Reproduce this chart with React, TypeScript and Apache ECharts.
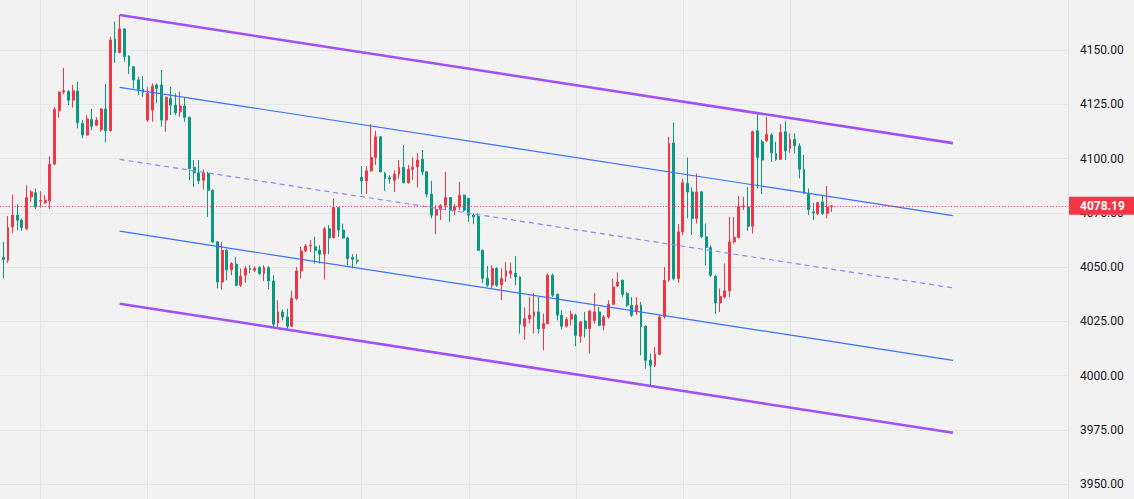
import React, { useEffect, useRef } from "react";
import * as echarts from "echarts";

// ---- OHLC data (hourly candles, index = bar number) ----
const opens = [
  4055.4, 4054.4, 4053.1, 4068.5, 4073.9, 4071.6, 4067.7, 4082.3, 4084.2, 4080.3,
  4079.6, 4080.5, 4097.4, 4122.0, 4130.6, 4130.8, 4126.9, 4131.1, 4116.2, 4110.8,
  4118.0, 4115.3, 4113.4, 4122.8, 4112.8, 4155.1, 4148.8, 4159.7, 4147.2, 4142.3,
  4136.2, 4131.9, 4117.7, 4122.3, 4133.9, 4133.9, 4117.7, 4127.7, 4124.6, 4121.5,
  4124.2, 4119.0, 4095.9, 4093.4, 4090.0, 4093.1, 4085.4, 4061.6, 4043.1, 4057.7,
  4048.8, 4051.3, 4041.6, 4046.2, 4049.3, 4048.5, 4049.7, 4047.0, 4049.7, 4043.6,
  4024.2, 4029.3, 4027.0, 4022.7, 4035.5, 4048.2, 4057.4, 4059.7, 4059.3, 4057.7,
  4055.9, 4067.6, 4063.6, 4077.4, 4067.0, 4063.4, 4054.4, 4053.1, 4091.3, 4089.7,
  4094.3, 4100.5, 4110.0, 4093.1, 4091.1, 4090.0, 4092.8, 4095.9, 4088.8, 4095.1,
  4096.2, 4099.6, 4093.9, 4083.6, 4073.9, 4076.5, 4078.4, 4082.0, 4076.2, 4077.7,
  4083.1, 4081.6, 4073.9, 4073.4, 4057.7, 4044.7, 4041.6, 4049.3, 4041.9, 4045.7,
  4047.0, 4047.0, 4045.4, 4022.7, 4026.2, 4027.3, 4029.3, 4021.6, 4023.9, 4046.2,
  4037.4, 4027.8, 4022.7, 4026.0, 4027.8, 4018.1, 4025.1, 4021.6, 4025.4, 4029.3,
  4023.1, 4027.0, 4032.8, 4041.3, 4043.9, 4037.8, 4032.4, 4029.3, 4032.4, 4022.7,
  4007.0, 4004.7, 4009.8, 4027.0, 4043.9, 4107.2, 4044.7, 4066.2, 4088.5, 4084.6,
  4072.4, 4084.6, 4063.9, 4059.0, 4045.7, 4033.4, 4036.2, 4039.0, 4061.6, 4063.6,
  4077.7, 4077.7, 4068.8, 4112.8, 4107.7, 4108.2, 4110.8, 4102.3, 4099.6, 4112.3,
  4104.7, 4108.8, 4105.7, 4095.0, 4083.4, 4075.4, 4074.7, 4080.0, 4074.7, 4077.9,
];
const closes = [
  4054.0, 4053.5, 4068.2, 4073.9, 4071.6, 4068.2, 4082.0, 4084.6, 4077.7, 4080.7,
  4080.8, 4097.4, 4122.6, 4130.6, 4131.2, 4126.9, 4131.2, 4116.5, 4110.8, 4118.2,
  4114.9, 4117.7, 4122.8, 4112.8, 4154.6, 4148.8, 4159.7, 4146.9, 4142.6, 4136.2,
  4131.9, 4130.5, 4130.0, 4133.4, 4132.3, 4117.7, 4128.2, 4124.6, 4121.1, 4124.2,
  4119.0, 4095.4, 4093.4, 4089.7, 4093.4, 4085.4, 4061.6, 4043.1, 4057.7, 4048.8,
  4051.6, 4041.6, 4045.7, 4049.3, 4048.8, 4049.3, 4047.0, 4049.7, 4043.6, 4023.6,
  4029.3, 4027.0, 4022.7, 4035.5, 4048.2, 4057.4, 4059.7, 4060.0, 4057.7, 4055.9,
  4067.6, 4063.4, 4077.4, 4067.0, 4063.4, 4053.9, 4053.6, 4052.7, 4089.7, 4094.3,
  4100.5, 4110.0, 4093.9, 4090.8, 4090.5, 4092.8, 4095.9, 4088.8, 4095.1, 4095.9,
  4099.3, 4093.9, 4083.6, 4073.9, 4076.5, 4078.4, 4082.0, 4076.2, 4077.7, 4083.1,
  4076.2, 4073.9, 4073.1, 4057.7, 4044.7, 4041.6, 4049.3, 4041.6, 4044.7, 4048.2,
  4048.2, 4045.4, 4023.6, 4026.2, 4027.8, 4029.3, 4021.6, 4023.9, 4046.2, 4037.0,
  4027.8, 4022.7, 4025.8, 4028.2, 4018.5, 4024.7, 4021.6, 4029.7, 4029.3, 4023.1,
  4027.0, 4032.8, 4040.8, 4043.1, 4037.4, 4032.4, 4027.8, 4032.4, 4022.4, 4007.0,
  4004.7, 4009.8, 4027.0, 4043.9, 4106.9, 4044.7, 4066.2, 4088.8, 4084.6, 4072.4,
  4084.6, 4063.9, 4059.0, 4046.2, 4033.4, 4036.5, 4039.0, 4061.6, 4063.6, 4078.0,
  4078.1, 4068.8, 4112.3, 4100.5, 4099.3, 4111.2, 4102.6, 4099.6, 4112.0, 4103.5,
  4108.8, 4105.9, 4095.0, 4083.9, 4076.5, 4074.9, 4079.7, 4074.7, 4077.4, 4078.19,
];
const lows = [
  4052.5, 4044.7, 4051.9, 4065.7, 4067.0, 4066.7, 4067.0, 4080.0, 4076.7, 4077.4,
  4079.0, 4076.7, 4097.0, 4118.8, 4129.7, 4124.6, 4123.4, 4113.9, 4109.3, 4110.5,
  4113.1, 4114.9, 4112.3, 4107.4, 4112.5, 4144.1, 4148.5, 4144.6, 4138.9, 4132.3,
  4129.2, 4128.5, 4116.9, 4116.9, 4125.4, 4114.6, 4112.3, 4120.0, 4120.0, 4119.2,
  4116.9, 4090.0, 4086.9, 4088.2, 4085.7, 4073.1, 4061.0, 4040.1, 4039.6, 4043.9,
  4046.2, 4041.1, 4040.8, 4042.7, 4047.3, 4047.7, 4046.2, 4043.6, 4039.6, 4022.4,
  4022.4, 4025.4, 4021.6, 4022.4, 4034.7, 4044.7, 4057.0, 4057.0, 4051.6, 4051.6,
  4044.2, 4055.9, 4063.1, 4063.9, 4063.1, 4050.8, 4049.3, 4051.3, 4083.6, 4083.6,
  4093.9, 4097.0, 4093.6, 4085.1, 4088.5, 4084.6, 4090.8, 4088.5, 4088.5, 4090.0,
  4086.7, 4092.3, 4082.0, 4072.4, 4065.1, 4071.6, 4076.2, 4070.8, 4073.9, 4076.2,
  4075.4, 4070.8, 4069.7, 4057.4, 4042.7, 4040.8, 4040.1, 4040.8, 4034.7, 4043.1,
  4044.7, 4041.6, 4019.3, 4016.5, 4023.9, 4019.3, 4019.3, 4011.6, 4023.6, 4036.2,
  4025.4, 4021.2, 4022.1, 4023.1, 4013.5, 4015.0, 4017.5, 4010.1, 4023.9, 4022.7,
  4020.8, 4026.2, 4032.4, 4040.8, 4036.2, 4031.6, 4027.0, 4027.8, 4009.3, 4003.2,
  3995.5, 4003.9, 4009.3, 4026.2, 4043.1, 4043.9, 4042.7, 4064.7, 4072.4, 4064.7,
  4070.0, 4063.4, 4050.8, 4045.4, 4028.5, 4029.3, 4035.5, 4036.2, 4060.8, 4063.1,
  4076.2, 4066.6, 4065.4, 4086.3, 4083.6, 4107.7, 4098.5, 4098.9, 4099.3, 4099.3,
  4102.6, 4102.3, 4090.8, 4083.6, 4073.9, 4071.6, 4073.9, 4073.9, 4072.4, 4075.4,
];
const highs = [
  4056.5, 4061.6, 4073.4, 4083.4, 4078.8, 4072.4, 4087.7, 4085.4, 4086.2, 4084.9,
  4083.1, 4101.1, 4123.8, 4130.9, 4141.8, 4131.5, 4133.9, 4135.4, 4117.7, 4119.9,
  4122.9, 4119.0, 4123.2, 4134.3, 4156.1, 4163.1, 4166.1, 4160.0, 4147.5, 4142.6,
  4137.7, 4138.0, 4133.0, 4134.6, 4134.6, 4140.8, 4128.5, 4133.1, 4130.0, 4130.8,
  4128.2, 4119.3, 4099.3, 4099.3, 4095.0, 4093.9, 4085.7, 4061.9, 4061.6, 4058.5,
  4052.3, 4054.6, 4049.3, 4050.4, 4050.8, 4050.4, 4050.4, 4050.8, 4050.4, 4046.2,
  4034.7, 4030.4, 4030.8, 4039.0, 4050.0, 4059.3, 4060.5, 4062.4, 4063.9, 4060.0,
  4068.5, 4069.3, 4081.6, 4077.7, 4070.0, 4063.9, 4055.9, 4055.9, 4096.5, 4096.5,
  4115.9, 4112.8, 4110.3, 4093.9, 4092.3, 4094.6, 4099.3, 4106.2, 4097.0, 4100.5,
  4102.6, 4103.9, 4094.2, 4089.7, 4078.5, 4079.0, 4093.9, 4082.3, 4079.0, 4089.2,
  4083.4, 4081.9, 4074.7, 4074.7, 4058.0, 4050.4, 4050.8, 4050.0, 4049.3, 4052.3,
  4052.1, 4055.0, 4045.7, 4031.3, 4036.2, 4037.8, 4036.2, 4028.5, 4046.9, 4047.0,
  4037.8, 4030.1, 4027.0, 4029.7, 4028.5, 4025.1, 4029.3, 4030.1, 4038.0, 4031.6,
  4027.8, 4034.7, 4044.7, 4047.5, 4044.2, 4038.5, 4036.2, 4036.2, 4033.9, 4023.1,
  4010.1, 4013.1, 4027.8, 4050.0, 4110.0, 4116.5, 4069.7, 4090.8, 4100.5, 4086.7,
  4093.1, 4085.1, 4070.0, 4060.0, 4046.2, 4040.1, 4051.6, 4073.1, 4073.1, 4082.7,
  4082.3, 4086.9, 4112.8, 4120.5, 4108.5, 4119.2, 4111.6, 4107.7, 4115.9, 4117.4,
  4111.6, 4111.6, 4107.0, 4101.6, 4086.2, 4079.6, 4080.0, 4083.1, 4087.3, 4078.5,
];

// day (session) boundaries, as bar numbers
const sessionStarts = [9, 32, 55, 78, 101, 124, 147, 170];

// regression channel: +2σ, +1σ, centre, -1σ, -2σ
const channelStartBar = 26;
const channelEndBar = 205;
const channelStartValues = [4166.1, 4132.8, 4099.6, 4066.5, 4033.1];
const channelEndValues = [4107.1, 4073.7, 4040.4, 4007.0, 3973.6];

// price scale
const priceMin = 3925;
const priceMax = 4175;
const priceStep = 25;
const barMin = 0.29;
const barMax = 229.72;

const UP = "#f23645";
const DOWN = "#089981";
const PURPLE = "#a150f7";
const BLUE = "#3a70ff";
const MIDLINE = "#8f86f8";

export default function App() {
  const ref = useRef<HTMLDivElement>(null);

  useEffect(() => {
    document.body.style.margin = "0";
    if (!ref.current) return;
    const chart = echarts.init(ref.current, undefined, { renderer: "svg" });
    const lastClose = closes[closes.length - 1];

    const candles = opens.map((o, i) => [i, o, closes[i], lows[i], highs[i]]);

    const channelStyles = [
      { color: PURPLE, width: 2.6, type: "solid" },
      { color: BLUE, width: 1.2, type: "solid" },
      { color: MIDLINE, width: 1.2, type: [5, 4] },
      { color: BLUE, width: 1.2, type: "solid" },
      { color: PURPLE, width: 2.6, type: "solid" },
    ];

    const channelSeries = channelStartValues.map((v, k) => ({
      type: "line",
      name: "channel" + k,
      z: 4,
      silent: true,
      showSymbol: false,
      symbol: "none",
      color: channelStyles[k].color,
      lineStyle: channelStyles[k],
      data: [
        [channelStartBar, v],
        [channelEndBar, channelEndValues[k]],
      ],
    }));

    const priceLineStyle = { color: UP, width: 1, type: [1, 2] };

    chart.setOption({
      animation: false,
      backgroundColor: "#f2f2f2",
      textStyle: { fontFamily: "Roboto, 'Noto Sans', sans-serif" },
      grid: {
        left: 0,
        right: 66,
        top: -4.25,
        bottom: -39.25,
        containLabel: false,
        outerBoundsMode: "none",
      },
      xAxis: {
        type: "value",
        min: barMin,
        max: barMax,
        show: false,
        splitLine: { show: false },
      },
      yAxis: [
        {
          type: "value",
          position: "right",
          min: priceMin,
          max: priceMax,
          interval: priceStep,
          axisLine: { show: true, lineStyle: { color: "#e0e0e0", width: 1 } },
          axisTick: { show: false },
          splitLine: { show: true, lineStyle: { color: "#e6e6e6", width: 1 } },
          axisLabel: {
            show: true,
            showMinLabel: false,
            showMaxLabel: false,
            margin: 12,
            color: "#131722",
            fontSize: 12,
            fontFamily: "Roboto",
            formatter: (v: number) => v.toFixed(2),
          },
        },
        {
          type: "value",
          position: "right",
          min: priceMin,
          max: priceMax,
          z: 10,
          axisLine: { show: false },
          axisTick: { show: false },
          splitLine: { show: false },
          axisLabel: {
            show: true,
            customValues: [lastClose],
            margin: 1,
            color: "#ffffff",
            backgroundColor: UP,
            fontWeight: "bold",
            fontSize: 12,
            fontFamily: "Roboto",
            lineHeight: 14,
            padding: [2, 16, 2, 11],
            formatter: (v: number) => v.toFixed(2),
          },
        },
      ],
      series: [
        {
          type: "line",
          name: "sessions",
          data: [],
          silent: true,
          markLine: {
            silent: true,
            z: 1,
            symbol: "none",
            label: { show: false },
            lineStyle: { color: "#e6e6e6", width: 1, type: "solid" },
            data: sessionStarts.map((b) => ({ xAxis: b })),
          },
        },
        {
          type: "candlestick",
          name: "ES",
          z: 2,
          barWidth: 2.4,
          data: candles,
          itemStyle: {
            color: UP,
            color0: DOWN,
            borderColor: UP,
            borderColor0: DOWN,
            borderWidth: 1,
          },
          markLine: {
            silent: true,
            symbol: "none",
            label: { show: false },
            itemStyle: { color: UP },
            lineStyle: priceLineStyle,
            data: [{ yAxis: lastClose, lineStyle: priceLineStyle }],
          },
        },
        ...channelSeries,
      ],
    });

    return () => chart.dispose();
  }, []);

  return (
    <div
      ref={ref}
      style={{ position: "fixed", left: 0, top: 0, width: 1134, height: 499 }}
    />
  );
}
